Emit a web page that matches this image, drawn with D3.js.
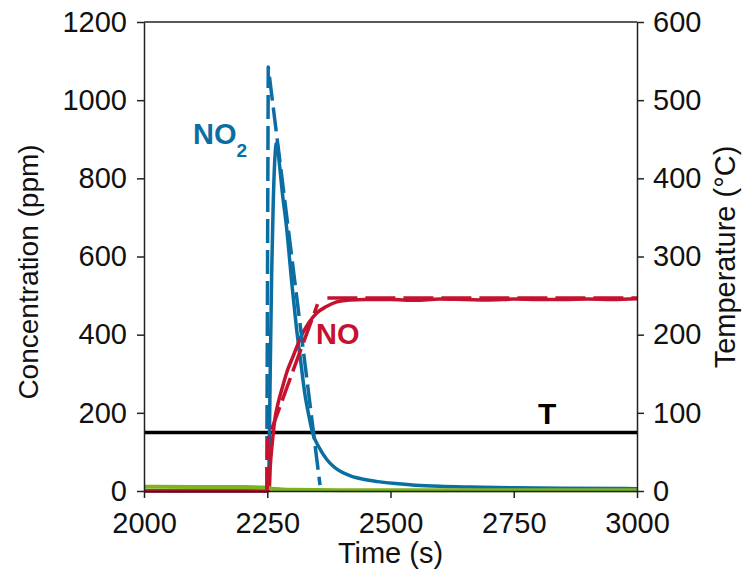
<!DOCTYPE html>
<html>
<head>
<meta charset="utf-8">
<script src="https://cdn.jsdelivr.net/npm/d3@7"></script>
<style>
  html, body { margin: 0; padding: 0; background: #fff; }
  svg { display: block; font-family: "Liberation Sans", Arial, Helvetica, sans-serif; }
</style>
</head>
<body>
<svg id="chart" width="748" height="577"></svg>
<script>
// ---- data ----
const xTicks = [2000, 2250, 2500, 2750, 3000];
const yLeftTicks = [0, 200, 400, 600, 800, 1000, 1200];
const yRightTicks = [0, 100, 200, 300, 400, 500, 600];

// measured NO2 (ppm)
const no2Time = [2000, 2250, 2253, 2256, 2259, 2262, 2265, 2268, 2270, 2274, 2280, 2289, 2300, 2309, 2318, 2326, 2334, 2342, 2355, 2370, 2385, 2400, 2420, 2445, 2475, 2510, 2550, 2600, 2660, 2750, 2850, 3000];
const no2Val  = [0,    0,    40,   300,  560,  730,  840,  888,  890,  845,  770,  676,  530,  420,  330,  251,  195,  148,  112,  82,   62,   49,   38,   30,   24,   19,   15,   12,   10,   8,    7,    6];

// measured NO (ppm)
const noTime = [2000, 2250, 2254, 2256, 2260, 2265, 2272, 2281, 2290, 2302, 2312, 2322, 2335, 2350, 2370, 2391, 2417, 2450, 2500, 2550, 2600, 2650, 2700, 2750, 2800, 2850, 2900, 2950, 3000];
const noVal  = [0,    0,    2,    60,   120,  180,  225,  266,  305,  343,  375,  404,  432,  455,  472,  484,  489,  490,  490,  488,  491,  490,  489,  491,  490,  490,  491,  490,  492];

// model NO2 (ppm, dashed)
const no2ModelTime = [2249, 2252, 2357];
const no2ModelVal  = [0,    1085, 15];

// model NO (ppm, dashed)
const noModelTime = [2250, 2251, 2300, 2352];
const noModelVal  = [0,    130,  300,  478];
const noModelFlatTime = [2372, 3000];
const noModelFlatVal  = [494,  494];

// green trace (ppm)
const greenTime = [2000, 2100, 2200, 2250, 2260, 2280, 2300, 2400, 3000];
const greenVal  = [11,   10,   10,   9,    6,    4,    3,    2,    2];

// temperature (°C)
const tTime = [2000, 3000];
const tVal  = [75, 75];

// ---- layout ----
const svg = d3.select("#chart");
const L = 144, R = 637, T = 22, B = 491;

const x = d3.scaleLinear().domain([2000, 3000]).range([L, R]);
const yL = d3.scaleLinear().domain([0, 1200]).range([B, T]);
const yR = d3.scaleLinear().domain([0, 600]).range([B, T]);

const cBlue = "#0b6ea3", cRed = "#c5122f", cGreen = "#7db31c";

const zip = (a, b) => a.map((v, i) => [v, b[i]]);
const lineL = d3.line().x(d => x(d[0])).y(d => yL(d[1]));
const lineLC = d3.line().x(d => x(d[0])).y(d => yL(d[1])).curve(d3.curveMonotoneX);
const lineR = d3.line().x(d => x(d[0])).y(d => yR(d[1]));

const g = svg.append("g");

// temperature line
g.append("path").attr("d", lineR(zip(tTime, tVal)))
  .attr("fill", "none").attr("stroke", "#000").attr("stroke-width", 3.5);

// measured NO2
g.append("path").attr("d", lineLC(zip(no2Time, no2Val)))
  .attr("fill", "none").attr("stroke", cBlue).attr("stroke-width", 3.5).attr("stroke-linejoin", "round");

// measured NO
g.append("path").attr("d", lineLC(zip(noTime, noVal)))
  .attr("fill", "none").attr("stroke", cRed).attr("stroke-width", 3.5).attr("stroke-linejoin", "round");

// green
g.append("path").attr("d", lineLC(zip(greenTime, greenVal)))
  .attr("fill", "none").attr("stroke", cGreen).attr("stroke-width", 4);

// model NO2 dashed
g.append("path").attr("d", lineL(zip(no2ModelTime, no2ModelVal)))
  .attr("fill", "none").attr("stroke", cBlue).attr("stroke-width", 3.5)
  .attr("stroke-dasharray", "24,7").attr("stroke-linejoin", "round");

// model NO dashed
g.append("path").attr("d", lineL(zip(noModelTime, noModelVal)))
  .attr("fill", "none").attr("stroke", cRed).attr("stroke-width", 3.5)
  .attr("stroke-dasharray", "24,7");
g.append("path").attr("d", lineL(zip(noModelFlatTime, noModelFlatVal)))
  .attr("fill", "none").attr("stroke", cRed).attr("stroke-width", 3.5)
  .attr("stroke-dasharray", "30,8");

// ---- axes ----
const fontSize = 29;
const axisColor = "#222";

const ax = svg.append("g").attr("transform", `translate(0,${B})`)
  .call(d3.axisBottom(x).tickValues(xTicks).tickSize(7).tickSizeOuter(0).tickPadding(14).tickFormat(d3.format("d")));
const ayL = svg.append("g").attr("transform", `translate(${L},0)`)
  .call(d3.axisLeft(yL).tickValues(yLeftTicks).tickSize(7).tickSizeOuter(0).tickPadding(10).tickFormat(d3.format("d")));
const ayR = svg.append("g").attr("transform", `translate(${R},0)`)
  .call(d3.axisRight(yR).tickValues(yRightTicks).tickSize(7).tickSizeOuter(0).tickPadding(9).tickFormat(d3.format("d")));

[ax, ayL, ayR].forEach(a => {
  a.selectAll("path.domain").attr("stroke", axisColor).attr("stroke-width", 1.5);
  a.selectAll("line").attr("stroke", axisColor).attr("stroke-width", 1.5);
  a.selectAll("text").attr("font-size", fontSize).attr("fill", "#111")
    .attr("font-family", "'Liberation Sans', Arial, Helvetica, sans-serif");
});

// top frame line
svg.append("line").attr("x1", L).attr("x2", R).attr("y1", T).attr("y2", T)
  .attr("stroke", axisColor).attr("stroke-width", 1.5);

// axis titles
svg.append("text").attr("x", (L + R) / 2).attr("y", 563).attr("text-anchor", "middle")
  .attr("font-size", fontSize).attr("fill", "#111").text("Time (s)");
svg.append("text").attr("transform", `translate(38,272) rotate(-90)`)
  .attr("text-anchor", "middle").attr("font-size", 28).attr("fill", "#111").text("Concentration (ppm)");
svg.append("text").attr("transform", `translate(735,257) rotate(-90)`)
  .attr("text-anchor", "middle").attr("font-size", fontSize).attr("fill", "#111").text("Temperature (°C)");

// series labels
const no2Lab = svg.append("text").attr("x", 193).attr("y", 144).attr("font-size", 29)
  .attr("font-weight", "bold").attr("fill", cBlue);
no2Lab.append("tspan").text("NO");
no2Lab.append("tspan").attr("font-size", 19).attr("dy", 13).text("2");

svg.append("text").attr("x", 316).attr("y", 344).attr("font-size", 29)
  .attr("font-weight", "bold").attr("fill", cRed).text("NO");

svg.append("text").attr("x", 538).attr("y", 424).attr("font-size", 30)
  .attr("font-weight", "bold").attr("fill", "#000").text("T");
</script>
</body>
</html>
